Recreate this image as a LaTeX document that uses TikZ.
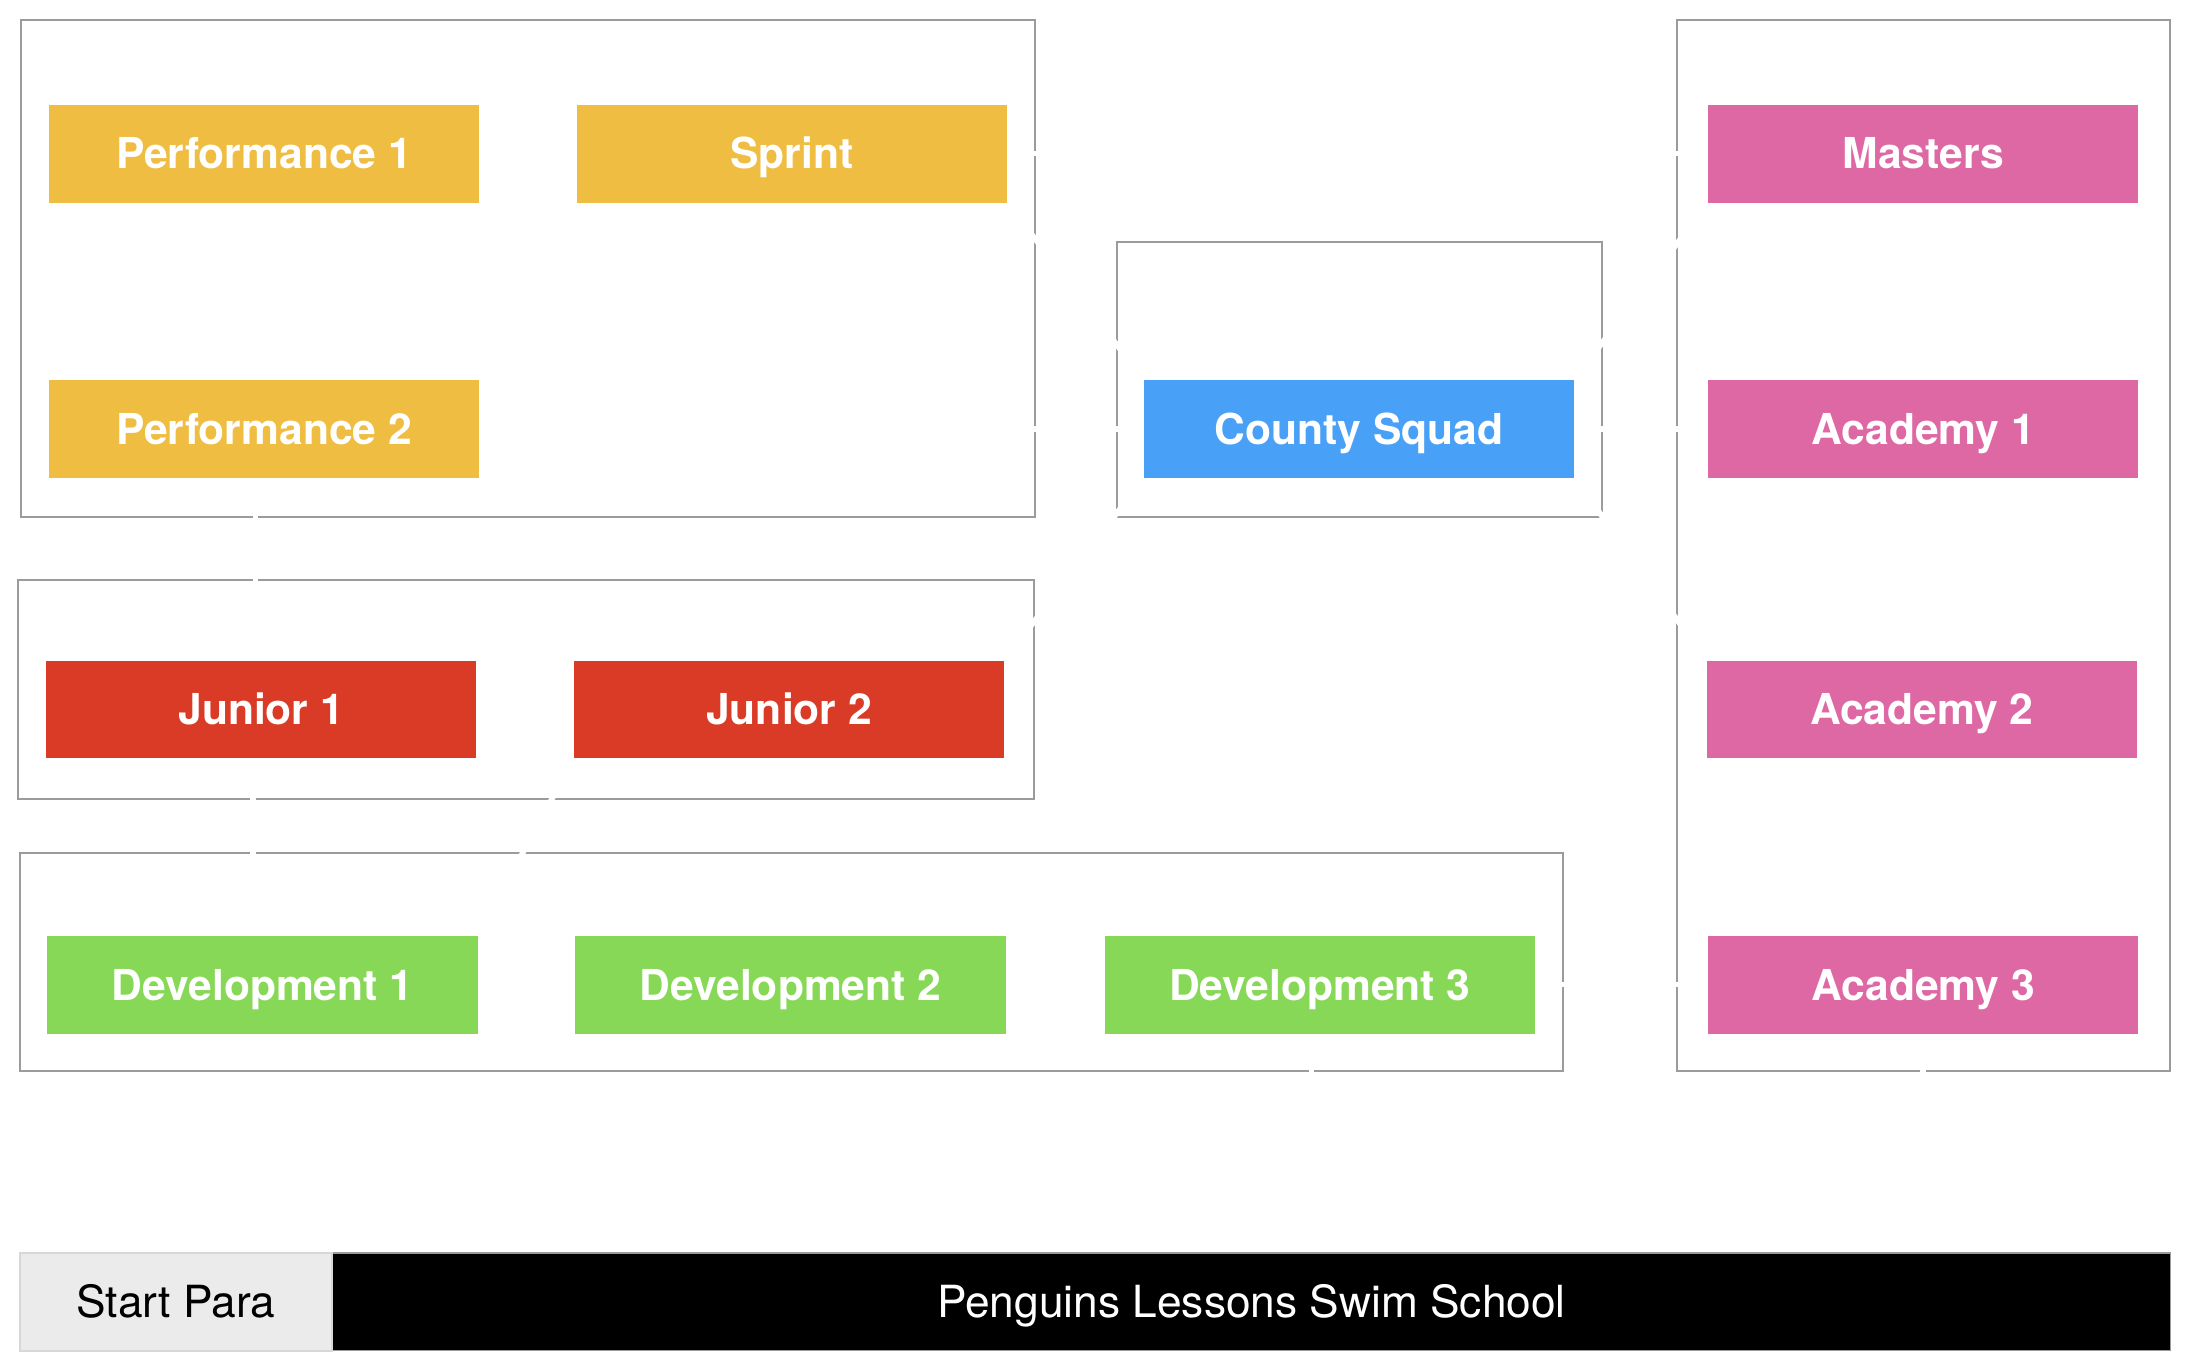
\documentclass[tikz,border=0pt]{standalone}
\usepackage{fontspec}
\setmainfont{TeX Gyre Heros}
\usetikzlibrary{backgrounds}
\definecolor{cyellow}{RGB}{239,189,65}
\definecolor{cred}{RGB}{218,59,39}
\definecolor{cblue}{RGB}{73,160,247}
\definecolor{cpink}{RGB}{222,104,164}
\definecolor{cgreen}{RGB}{134,216,86}
\definecolor{cgrp}{RGB}{155,155,155}
\definecolor{cpara}{RGB}{235,235,235}
\definecolor{cparaborder}{RGB}{215,215,215}
\begin{document}
\begin{tikzpicture}[x=1pt,y=-1pt,
  grp/.style={draw=cgrp,line width=1.4pt},
  lvl/.style={rectangle,inner sep=0pt,minimum width=308pt,minimum height=70pt,
    text height=22pt,text depth=0pt,
    text=white,font=\fontsize{30.5}{36}\selectfont\bfseries},
  yel/.style={lvl,fill=cyellow},
  redb/.style={lvl,fill=cred},
  blu/.style={lvl,fill=cblue},
  pnk/.style={lvl,fill=cpink},
  grn/.style={lvl,fill=cgreen},
  barbox/.style={rectangle,inner sep=0pt,minimum height=70pt,text height=22.5pt,text depth=0pt,
    font=\fontsize{31.7}{37}\selectfont},
  link/.style={draw=white,line width=4pt}]
\useasboundingbox (0,0) rectangle (1568,982);
% nodes
\node[yel] (perf1) at (189,110) {Performance 1};
\node[yel] (sprint) at (567,110) {Sprint};
\node[yel] (perf2) at (189,307) {Performance 2};
\node[blu] (county) at (973,307) {County Squad};
\node[pnk] (masters) at (1377,110) {Masters};
\node[pnk] (acad1) at (1377,307) {Academy 1};
\node[pnk] (acad2) at (1376,508) {Academy 2};
\node[pnk] (acad3) at (1377,705) {Academy 3};
\node[redb] (junior1) at (187,508) {Junior 1};
\node[redb] (junior2) at (565,508) {Junior 2};
\node[grn] (dev1) at (188,705) {Development 1};
\node[grn] (dev2) at (566,705) {Development 2};
\node[grn] (dev3) at (945,705) {Development 3};
\node[barbox,minimum width=1316pt,fill=black,draw=cgrp,line width=1pt,text=white] (school) at (896,932) {Penguins Lessons Swim School};
\node[barbox,minimum width=224pt,fill=cpara,draw=cparaborder,line width=1.5pt,text=black] (para) at (126,932) {Start Para};
\begin{scope}[on background layer]
\fill[white] (0,0) rectangle (1568,982);
% groups
\draw[grp] (15,14) rectangle (741,370);
\draw[grp] (800,173) rectangle (1147,370);
\draw[grp] (1201,14) rectangle (1554,767);
\draw[grp] (13,415) rectangle (740,572);
\draw[grp] (14,611) rectangle (1119,767);
% white connectors (visible only where they cross group borders)
\draw[link] (sprint.east) -- (masters.west);
\draw[link] (perf2.east) -- (county.west);
\draw[link] (county.east) -- (acad1.west);
\draw[link] (sprint.south east) -- (county.north west);
\draw[link] (county.north east) -- (masters.south west);
\draw[link] (county.south west) -- (junior2.north east);
\draw[link] (county.south east) -- (acad2.north west);
\draw[link] ([xshift=-6pt]perf2.south) -- ([xshift=-4pt]junior1.north);
\draw[link] ([xshift=-6pt]junior1.south) -- ([xshift=-7pt]dev1.north);
\draw[link] (junior2.south west) -- (dev1.north east);
\draw[link] (dev3.east) -- (acad3.west);
\draw[link] ([xshift=-6pt]dev3.south) -- ([xshift=-6pt]dev3.south |- school.north);
\draw[link] (acad3.south) -- (acad3.south |- school.north);
\draw[link] (masters.south) -- (acad1.north);
\draw[link] (acad1.south) -- (acad2.north);
\draw[link] (acad2.south) -- (acad3.north);
\end{scope}
\end{tikzpicture}
\end{document}
